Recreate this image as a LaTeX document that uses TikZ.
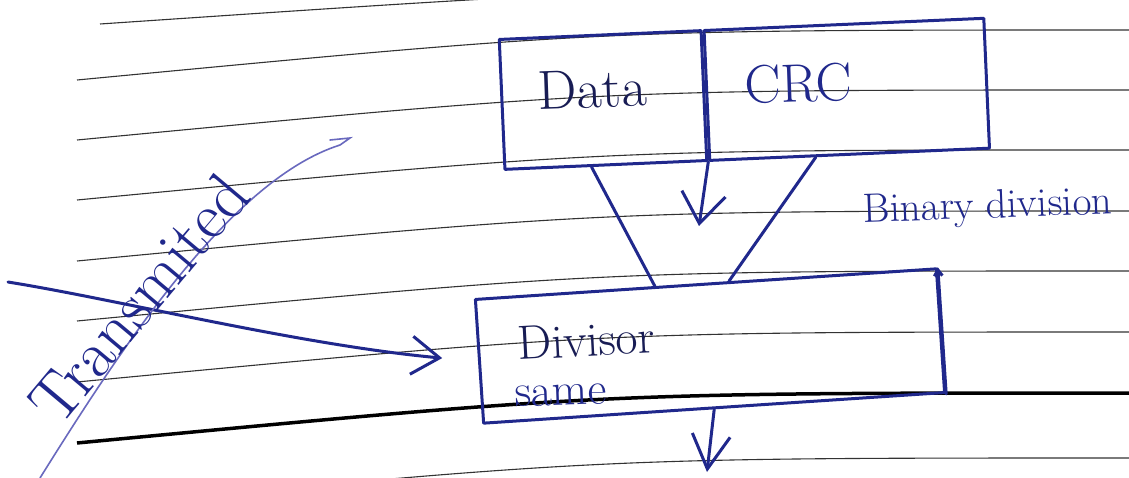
\documentclass[tikz,border=0pt]{standalone}
\usepackage{fontspec}
\usetikzlibrary{positioning}
\usetikzlibrary{arrows.meta, calc}

\definecolor{ink}{RGB}{32,40,140}
\definecolor{inkdark}{RGB}{24,28,84}
\definecolor{pencil}{RGB}{105,105,190}

\tikzset{
  pen/.style={draw=ink, line width=3pt, line cap=round, line join=round},
  ruled/.style={draw=black!80, line width=1.1pt},
  box/.style={rectangle, pen, inner sep=0pt},
  hand/.style={text=ink, inner sep=0pt},
}

\begin{document}
\begin{tikzpicture}[x=1pt, y=-1pt]
\useasboundingbox (0,0) rectangle (1129,478);
\clip (0,0) rectangle (1129,478);
\fill[white] (0,0) rectangle (1129,478);

% ruled lines of the page
\draw[ruled] (100,24) .. controls (603,-10) .. (1129,-20);
\foreach \y in {80,140,200,261,321,382,508}
  \draw[ruled] (77,\y) .. controls (603,\y-50) .. (1129,\y-50);
\draw[black, line width=3.5pt] (77,443) .. controls (603,393) .. (1129,393);

% frame: data | crc
\node[box, rotate=2.5, minimum width=202pt, minimum height=130pt] (data) at (603,100) {};
\node[box, rotate=2.5, minimum width=280pt, minimum height=130pt, right=0pt of data] (crc) {};
\node[hand, text=inkdark, font=\fontsize{55}{62}\selectfont, anchor=base, rotate=2] (datatext) at (593,108) {Data};
\node[hand, font=\fontsize{54}{62}\selectfont, anchor=base, rotate=2] (crctext) at (799,102) {CRC};

% divisor box
\node[box, rotate=3.8, minimum width=462pt, minimum height=124pt] (divisor) at (710,346) {};
\node[hand, text=inkdark, font=\fontsize{48}{56}\selectfont, anchor=base west, rotate=3] (divtext) at (518,360) {Divisor};
\node[hand, font=\fontsize{46}{54}\selectfont, anchor=base west, rotate=2] (sametext) at (515,407) {same};
\node[hand, font=\fontsize{41}{48}\selectfont, anchor=base, rotate=2] (bintext) at (988,218) {Binary division};

% funnel into the divisor
\draw[pen] ($(data.south west)!0.43!(data.south east)$) -- ($(divisor.north west)!0.39!(divisor.north east)$);
\draw[pen] ($(crc.south west)!0.38!(crc.south east)$) -- ($(divisor.north west)!0.55!(divisor.north east)$);
\coordinate (mid) at (699,226);
\draw[pen, -{Straight Barb[length=30pt, width=44pt]}] (data.south east) -- (mid);
\coordinate (out) at (707,472);
\draw[pen, -{Straight Barb[length=34pt, width=38pt]}] (divisor.south) -- (out);
\draw[pen, -{Straight Barb[length=6pt, width=8pt]}] (divisor.south east) -- (divisor.north east);

% transmitted frame comes in from the left
\coordinate (feed) at (8,282);
\draw[pen, -{Straight Barb[length=28pt, width=38pt]}, shorten >=36pt]
  (feed) .. controls (120,300) and (300,345) .. (divisor.west);
\draw[draw=pencil, line width=1.6pt, line cap=round]
  (40,478) .. controls (120,350) and (230,180) .. (340,145) -- (350,138) -- (330,140);
\node[hand, font=\fontsize{66}{74}\selectfont, anchor=base, rotate=50] (sendtext) at (156,313) {Transmited};

\end{tikzpicture}
\end{document}
